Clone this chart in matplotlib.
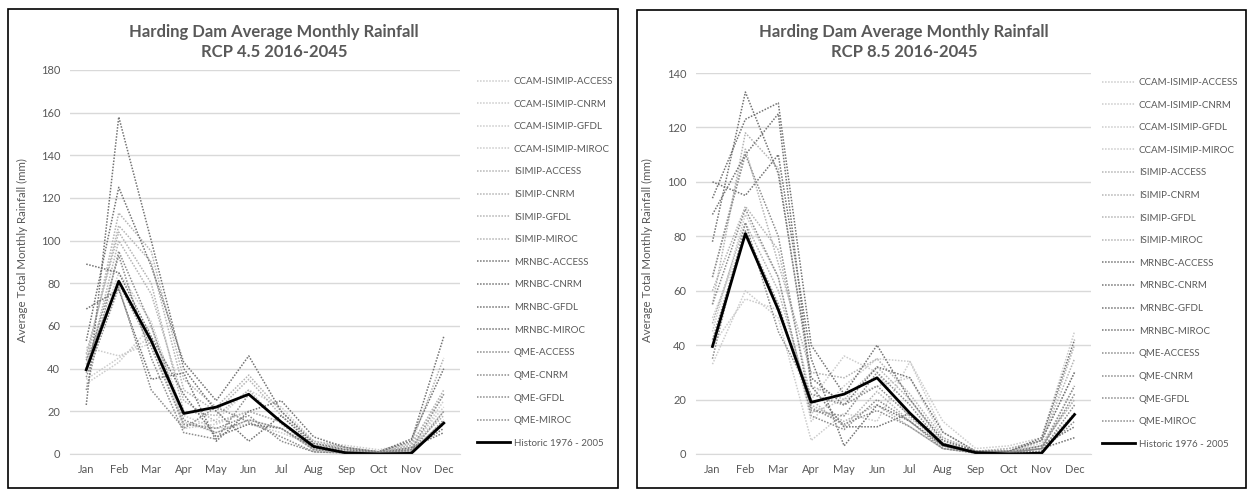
import matplotlib
matplotlib.use("Agg")
import matplotlib.pyplot as plt
from matplotlib.patches import Rectangle

plt.rcParams["font.family"] = ["Lato", "DejaVu Sans"]

months = ["Jan", "Feb", "Mar", "Apr", "May", "Jun", "Jul", "Aug", "Sep", "Oct", "Nov", "Dec"]
models = ["CCAM-ISIMIP-ACCESS", "CCAM-ISIMIP-CNRM", "CCAM-ISIMIP-GFDL", "CCAM-ISIMIP-MIROC",
          "ISIMIP-ACCESS", "ISIMIP-CNRM", "ISIMIP-GFDL", "ISIMIP-MIROC",
          "MRNBC-ACCESS", "MRNBC-CNRM", "MRNBC-GFDL", "MRNBC-MIROC",
          "QME-ACCESS", "QME-CNRM", "QME-GFDL", "QME-MIROC"]
historic = [39.5, 81, 53, 19, 22, 28, 15, 3.5, 0.5, 0, 0.3, 14.5]

# RCP 4.5 model runs (mm)
rcp45 = [
    [35, 45, 55, 12, 14, 20, 15, 3, 2, 1, 3, 20],
    [50, 46, 52, 15, 10, 16, 12, 2, 1, 0.5, 2, 25],
    [33, 43, 60, 13, 16, 30, 22, 6, 4, 2, 5, 28],
    [40, 85, 62, 18, 12, 14, 10, 4, 3, 1, 4, 22],
    [45, 107, 90, 30, 20, 35, 18, 5, 3, 1, 4, 30],
    [38, 100, 75, 25, 15, 20, 15, 4, 2, 1, 3, 18],
    [42, 113, 95, 35, 22, 37, 20, 6, 3, 1, 5, 45],
    [47, 104, 80, 20, 18, 30, 14, 3, 2, 1, 2, 15],
    [53, 125, 88, 43, 25, 46, 20, 5, 2, 1, 6, 55],
    [89, 85, 55, 28, 8, 14, 12, 3, 1, 0.5, 2, 12],
    [68, 77, 35, 38, 6, 20, 25, 8, 3, 1, 7, 40],
    [23, 158, 100, 40, 20, 6, 18, 4, 1, 0.5, 3, 10],
    [30, 95, 60, 16, 10, 16, 12, 2, 1, 0.5, 2, 28],
    [40, 93, 45, 10, 7, 28, 15, 2, 1, 1, 1, 14],
    [36, 78, 30, 12, 22, 15, 8, 1, 0.5, 0.5, 1, 20],
    [44, 80, 50, 14, 12, 18, 6, 1, 0.5, 0.3, 0.5, 16],
]

# RCP 8.5 model runs (mm)
rcp85 = [
    [33, 60, 50, 5, 15, 12, 34, 12, 2, 3, 6, 45],
    [40, 57, 53, 20, 36, 30, 13, 5, 1, 1, 4, 20],
    [45, 88, 65, 12, 25, 35, 34, 8, 1, 2, 5, 30],
    [50, 80, 55, 15, 20, 25, 28, 6, 1, 1, 3, 25],
    [55, 118, 105, 25, 20, 32, 20, 4, 1, 1, 5, 35],
    [60, 91, 75, 20, 10, 23, 12, 3, 0.5, 1, 3, 20],
    [65, 112, 70, 30, 28, 35, 22, 6, 1, 2, 5, 40],
    [48, 85, 60, 18, 12, 18, 10, 2, 0.5, 0.5, 2, 15],
    [94, 123, 129, 40, 22, 40, 20, 5, 1, 1, 6, 42],
    [100, 95, 110, 35, 3, 18, 12, 3, 0.5, 0.5, 2, 6],
    [78, 133, 103, 28, 18, 32, 28, 8, 1, 1, 5, 30],
    [88, 110, 125, 25, 10, 10, 15, 4, 0.5, 0.5, 3, 10],
    [65, 110, 80, 16, 14, 30, 18, 3, 0.5, 0.5, 2, 25],
    [55, 90, 65, 14, 9, 20, 12, 2, 0.5, 0.5, 1, 18],
    [35, 85, 45, 22, 18, 25, 14, 3, 0.5, 0.5, 2, 22],
    [42, 82, 55, 17, 11, 16, 10, 2, 0.3, 0.3, 1, 12],
]

greys = ["#cccccc"] * 4 + ["#b4b4b4"] * 4 + ["#737373"] * 4 + ["#8c8c8c"] * 4
W, H = 1250, 491


def fx(px):
    return px / W


def fy(py):
    return 1 - py / H


def make_panel(fig, rect, data, ymax, title, title_x, ylabel_x, legend_xy):
    ax = fig.add_axes(rect)
    x = range(len(months))
    for name, vals, c in zip(models, data, greys):
        ax.plot(x, vals, linestyle=(0, (1, 1)), color=c, lw=1.1, label=name)
    ax.plot(x, historic, color="black", lw=2, label="Historic 1976 - 2005")
    ax.set_xlim(-0.5, 11.5)
    ax.set_ylim(0, ymax)
    ax.set_yticks(range(0, ymax + 1, 20))
    ax.set_xticks(list(x))
    ax.set_xticklabels(months)
    ax.grid(axis="y", color="#d9d9d9", lw=1)
    ax.set_axisbelow(True)
    for s in ["top", "right", "left"]:
        ax.spines[s].set_visible(False)
    ax.spines["bottom"].set_color("#d9d9d9")
    ax.tick_params(length=0, labelsize=8, colors="#595959", pad=7)
    fig.text(ylabel_x, fy(250), "Average Total Monthly Rainfall (mm)", rotation=90,
             ha="center", va="center", fontsize=8.3, color="#595959")
    fig.text(title_x, fy(32), "Harding Dam Average Monthly Rainfall", ha="center", va="center",
             fontsize=12, fontweight="bold", color="#595959")
    fig.text(title_x, fy(52), title, ha="center", va="center",
             fontsize=12, fontweight="bold", color="#595959")
    leg = fig.legend(*ax.get_legend_handles_labels(), loc="upper left", bbox_to_anchor=legend_xy,
                     frameon=False, fontsize=7, handlelength=3.4, handletextpad=0.4,
                     labelspacing=1.4, borderpad=0, borderaxespad=0)
    for t in leg.get_texts():
        t.set_color("#595959")
    return ax


fig = plt.figure(figsize=(12.5, 4.91), dpi=100)
fig.patches.append(Rectangle((fx(8), fy(488)), fx(610), (488 - 9) / H, transform=fig.transFigure,
                             fill=False, ec="black", lw=1.2))
fig.patches.append(Rectangle((fx(637), fy(488)), fx(609), (488 - 10) / H, transform=fig.transFigure,
                             fill=False, ec="black", lw=1.2))

make_panel(fig, [fx(70), fy(454), fx(390), (454 - 70) / H], rcp45, 180,
           "RCP 4.5 2016-2045", fx(274), fx(22), (fx(477), fy(77)))
make_panel(fig, [fx(696), fy(454), fx(395), (454 - 73) / H], rcp85, 140,
           "RCP 8.5 2016-2045", fx(904), fx(647), (fx(1102), fy(78)))

fig.savefig("out.png", dpi=100)
